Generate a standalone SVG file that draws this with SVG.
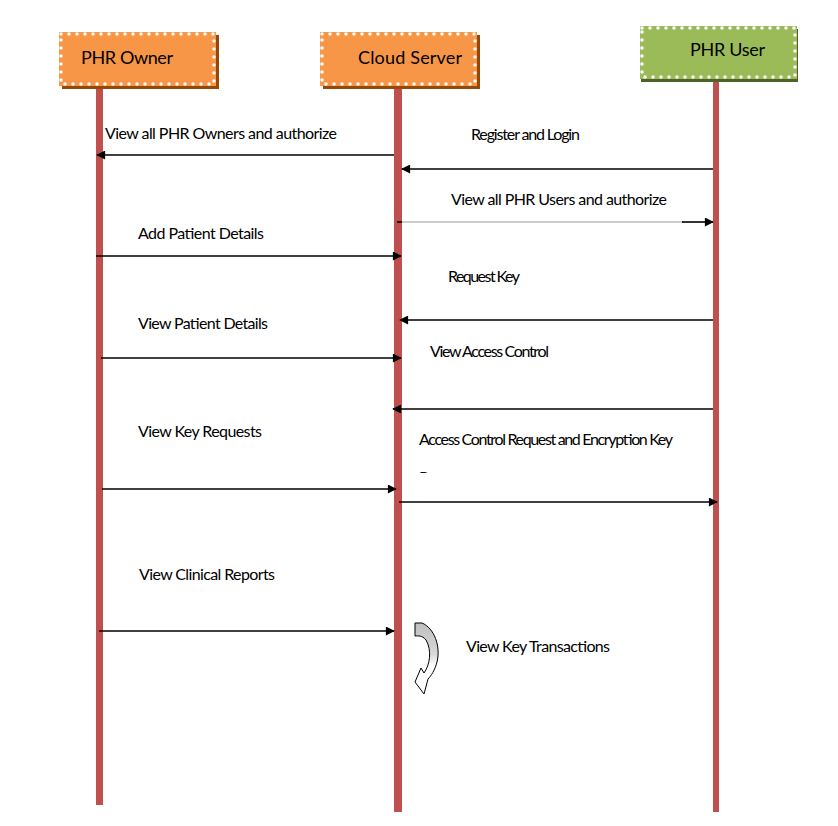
<svg xmlns="http://www.w3.org/2000/svg" width="838" height="826" viewBox="0 0 838 826">
<style>
.lbl{font-family:Lato,"Open Sans","Liberation Sans",sans-serif;font-size:16px;fill:#000}
.hdr{font-family:Lato,"Open Sans","Liberation Sans",sans-serif;font-size:18px;fill:#000}
.life{fill:#C0504D}
.msg{stroke:#000;stroke-width:1.6;fill:none;marker-end:url(#ah)}
.dots{fill:none;stroke:#fff;stroke-width:3.5;stroke-dasharray:0 8;stroke-linecap:round}
</style>
<defs>
<marker id="ah" viewBox="0 0 10 10" refX="9" refY="5" markerWidth="10" markerHeight="9" markerUnits="userSpaceOnUse" orient="auto">
<path d="M0,0 L10,5 L0,10 Z" fill="#000"/>
</marker>
<linearGradient id="gr" x1="0" y1="0" x2="0" y2="1">
<stop offset="0" stop-color="#BFBFBF"/>
<stop offset="0.45" stop-color="#D9D9D9"/>
<stop offset="0.6" stop-color="#FFFFFF"/>
<stop offset="1" stop-color="#FFFFFF"/>
</linearGradient>
<clipPath id="clipResp"><rect x="410" y="460" width="200" height="13"/></clipPath>
</defs>
<rect width="838" height="826" fill="#fff"/>

<g id="owner">
<rect class="life" x="96" y="86" width="7" height="719"/>
<rect x="62" y="35" width="157" height="54" fill="#984806"/>
<rect x="59" y="32" width="157" height="54" fill="#F79646"/>
<rect class="dots" x="61" y="34" width="153" height="50"/>
<text class="hdr" x="81" y="64" textLength="92">PHR Owner</text>
</g>

<g id="server">
<rect class="life" x="394" y="86" width="8" height="726"/>
<rect x="323" y="35" width="157" height="54" fill="#984806"/>
<rect x="320" y="32" width="157" height="54" fill="#F79646"/>
<rect class="dots" x="322" y="34" width="153" height="50"/>
<text class="hdr" x="358" y="64" textLength="104">Cloud Server</text>
</g>

<g id="user">
<rect class="life" x="713" y="79" width="6" height="733"/>
<rect x="641" y="29" width="157" height="53" fill="#4F6228"/>
<rect x="640" y="26" width="157" height="53" fill="#9BBB59"/>
<rect class="dots" x="642" y="28" width="153" height="49"/>
<text class="hdr" x="690" y="56" textLength="75">PHR User</text>
</g>

<g id="connectors">
<line class="msg" x1="394" y1="155" x2="97" y2="155"/>
<line class="msg" x1="713" y1="169" x2="402" y2="169"/>
<line x1="402" y1="222" x2="684" y2="222" stroke="#999" stroke-width="1"/>
<line x1="397" y1="222" x2="402" y2="222" stroke="#000" stroke-width="1.6"/>
<line class="msg" x1="682" y1="222" x2="713" y2="222"/>
<line class="msg" x1="96" y1="256" x2="401" y2="256"/>
<line class="msg" x1="713" y1="320" x2="400" y2="320"/>
<line class="msg" x1="101" y1="358" x2="401" y2="358"/>
<line class="msg" x1="713" y1="409" x2="393" y2="409"/>
<line class="msg" x1="102" y1="489" x2="396" y2="489"/>
<line class="msg" x1="399" y1="502" x2="717" y2="502"/>
<line class="msg" x1="99" y1="631" x2="394" y2="631"/>
<path d="M415,623 L422,623 C434,628 441,646 437,662 C435,670 431,676 428,679 L424,694 L415,682 L421,668 L424,673 C430,665 432,650 426,640 C422,635 418,636 415,636 Z" fill="url(#gr)" stroke="#000" stroke-width="1"/>
</g>

<g id="labels">
<text class="lbl" x="105" y="139" textLength="232">View all PHR Owners and authorize</text>
<text class="lbl" x="471" y="140" textLength="109">Register and Login</text>
<text class="lbl" x="451" y="205" textLength="216">View all PHR Users and authorize</text>
<text class="lbl" x="138" y="239" textLength="126">Add Patient Details</text>
<text class="lbl" x="448" y="282" textLength="72">Request Key</text>
<text class="lbl" x="138" y="329" textLength="130">View Patient Details</text>
<text class="lbl" x="430" y="357" textLength="119">View Access Control</text>
<text class="lbl" x="138" y="437" textLength="124">View Key Requests</text>
<text class="lbl" x="419" y="445" textLength="254">Access Control Request and Encryption Key</text>
<text class="lbl" x="419" y="483" clip-path="url(#clipResp)">Response</text>
<text class="lbl" x="139" y="580" textLength="136">View Clinical Reports</text>
<text class="lbl" x="466" y="652" textLength="144">View Key Transactions</text>
</g>
</svg>
